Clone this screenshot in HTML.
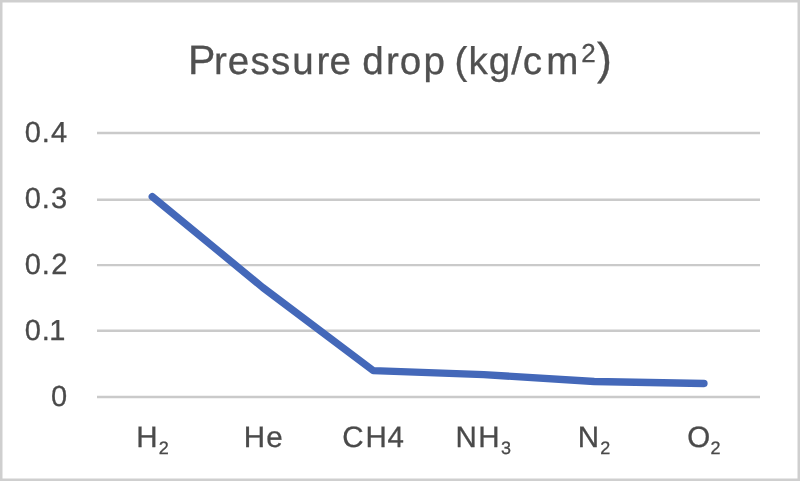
<!DOCTYPE html>
<html><head><meta charset="utf-8">
<style>
html,body{margin:0;padding:0;background:#fff;}
body{width:800px;height:481px;overflow:hidden;}
svg{display:block;will-change:transform;}
text{text-rendering:geometricPrecision;font-family:"Liberation Sans",Arial,sans-serif;fill:#4a4a4a;stroke:#4a4a4a;stroke-width:0.3px;}
</style></head>
<body>
<svg width="800" height="481" viewBox="0 0 800 481">
<rect x="0" y="0" width="800" height="481" fill="#cfcfcf"/>
<rect x="2.5" y="2.5" width="795" height="476" fill="#fff"/>
<text style="fill:#505050;stroke:#505050"><tspan x="187.98" y="74" font-size="41">P</tspan><tspan x="214.11" y="74" font-size="38.6">r</tspan><tspan x="227.80" y="74" font-size="38.6">e</tspan><tspan x="250.51" y="74" font-size="38.6">s</tspan><tspan x="271.01" y="74" font-size="38.6">s</tspan><tspan x="292.29" y="74" font-size="38.6">u</tspan><tspan x="316.56" y="74" font-size="38.6">r</tspan><tspan x="329.55" y="74" font-size="38.6">e</tspan> <tspan x="362.25" y="74" font-size="38.6">d</tspan><tspan x="386.06" y="74" font-size="38.6">r</tspan><tspan x="399.82" y="74" font-size="38.6">o</tspan><tspan x="423.58" y="74" font-size="38.6">p</tspan> <tspan x="454.46" y="74" font-size="38.5">(</tspan><tspan x="468.47" y="74" font-size="38.6">k</tspan><tspan x="488.80" y="74" font-size="38.6">g</tspan><tspan x="511.14" y="74" font-size="38.6">/</tspan><tspan x="522.86" y="74" font-size="38.6">c</tspan><tspan x="546.36" y="74" font-size="38.6">m</tspan><tspan x="581.22" y="61.6" font-size="26">2</tspan><tspan x="596.91" y="74" font-size="44.7">)</tspan></text>
<g stroke="#cacaca" stroke-width="2.4"><line x1="97" y1="133" x2="760" y2="133"/><line x1="97" y1="199.75" x2="760" y2="199.75"/><line x1="97" y1="265.1" x2="760" y2="265.1"/><line x1="97" y1="330.7" x2="760" y2="330.7"/><line x1="97" y1="397" x2="760" y2="397"/></g>
<text><tspan x="24.74" y="142.4" font-size="29">0</tspan><tspan x="41.77" y="142.4" font-size="29">.</tspan><tspan x="50.93" y="142.4" font-size="29">4</tspan></text>
<text><tspan x="24.64" y="207.9" font-size="29">0</tspan><tspan x="41.72" y="207.9" font-size="29">.</tspan><tspan x="51.02" y="207.9" font-size="29">3</tspan></text>
<text><tspan x="24.64" y="274.0" font-size="29">0</tspan><tspan x="41.72" y="274.0" font-size="29">.</tspan><tspan x="51.14" y="274.0" font-size="29">2</tspan></text>
<text><tspan x="24.64" y="340.0" font-size="29">0</tspan><tspan x="41.72" y="340.0" font-size="29">.</tspan><tspan x="49.34" y="340.0" font-size="29">1</tspan></text>
<text><tspan x="50.99" y="405.8" font-size="29">0</tspan></text>
<polyline points="152.25,196.6 262.75,287.5 373.25,370.6 483.75,374.6 594.25,381.5 704.0,383.5" fill="none" stroke="#4468b9" stroke-width="7.3" stroke-linecap="round" stroke-linejoin="round"/>
<text><tspan x="136.24" y="447" font-size="29.5">H</tspan><tspan x="158.74" y="454.2" font-size="18">2</tspan></text>
<text><tspan x="243.79" y="447" font-size="29.5">H</tspan><tspan x="266.13" y="447" font-size="29.5">e</tspan></text>
<text><tspan x="342.36" y="447" font-size="29.5">C</tspan><tspan x="365.59" y="447" font-size="29.5">H</tspan><tspan x="387.54" y="447" font-size="29.5">4</tspan></text>
<text><tspan x="455.62" y="447" font-size="29.5">N</tspan><tspan x="478.29" y="447" font-size="29.5">H</tspan><tspan x="500.95" y="454.2" font-size="18">3</tspan></text>
<text><tspan x="577.79" y="447" font-size="29.5">N</tspan><tspan x="600.29" y="454.2" font-size="18">2</tspan></text>
<text><tspan x="687.13" y="447" font-size="29.5">O</tspan><tspan x="710.54" y="454.2" font-size="18">2</tspan></text>
</svg>
</body></html>
